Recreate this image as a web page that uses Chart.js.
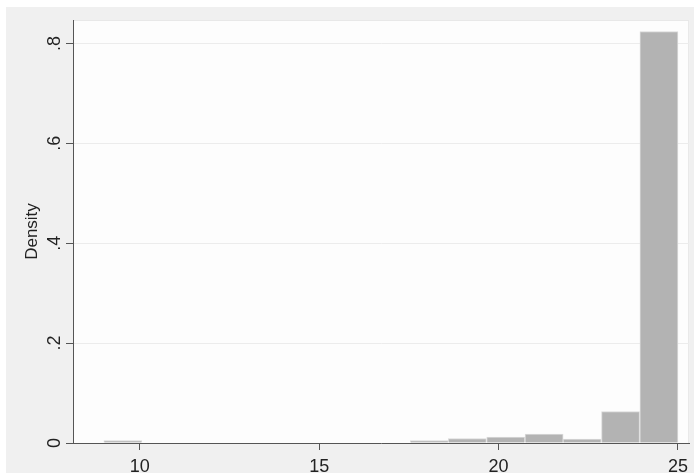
<!DOCTYPE html>
<html>
<head>
<meta charset="utf-8">
<script src="https://cdn.jsdelivr.net/npm/chart.js@4.4.1/dist/chart.umd.min.js"></script>
<style>
  html, body { margin: 0; padding: 0; background: #ffffff; }
  #myChart { display: block; }
</style>
</head>
<body>
<canvas id="myChart" width="694" height="473"></canvas>
<script>
// histogram bins (centres) and density heights
var binCenters = [9.53, 10.6, 11.67, 12.73, 13.8, 14.87, 15.93, 17.0, 18.07, 19.13, 20.2, 21.27, 22.33, 23.4, 24.47];
var density = [0.005, 0, 0, 0, 0, 0, 0, 0, 0.005, 0.009, 0.012, 0.018, 0.008, 0.063, 0.824];

var xTicks = [10, 15, 20, 25];
var yTicks = [0, 0.2, 0.4, 0.6, 0.8];
var yTickLabels = ['0', '.2', '.4', '.6', '.8'];

var points = binCenters.map(function (c, i) { return { x: c, y: density[i] } })

// stata-ish backgrounds: grey graph region, white plot region
var backgrounds = {
    id: 'backgrounds',
    beforeDraw: function (chart) {
        var ctx = chart.ctx;
        var a = chart.chartArea;
        ctx.save();
        ctx.fillStyle = '#ffffff';
        ctx.fillRect(0, 0, chart.width, chart.height);
        ctx.fillStyle = '#f0f0f0';
        ctx.fillRect(6, 7, chart.width - 6, chart.height - 7);
        ctx.fillStyle = '#fdfdfd';
        ctx.fillRect(a.left, a.top, a.right - a.left, a.bottom - a.top);
        ctx.strokeStyle = '#e8e8e8';
        ctx.lineWidth = 1;
        ctx.strokeRect(a.left + 0.5, a.top + 0.5, a.right - a.left - 1, a.bottom - a.top);
        ctx.restore();
    }
};

new Chart('myChart', {
    type: 'bar',
    data: {
        datasets: [{
            data: points,
            backgroundColor: '#b3b3b3',
            borderColor: '#dadada',
            borderWidth: 1,
            barPercentage: 1,
            categoryPercentage: 1
        }]
    },
    options: {
        responsive: false,
        animation: false,
        devicePixelRatio: 1,
        layout: { padding: { left: 6, top: 20, right: 2, bottom: 0 } },
        plugins: {
            legend: { display: false },
            tooltip: { enabled: false }
        },
        scales: {
            x: {
                type: 'linear',
                offset: false,
                min: 8.14,
                max: 25.31,
                afterBuildTicks: function (scale) {
                    scale.ticks = xTicks.map(function (v) { return { value: v } })
                },
                afterFit: function (scale) { scale.height = 30 },
                grid: {
                    offset: false,
                    drawOnChartArea: false,
                    tickLength: 7,
                    tickColor: '#555555'
                },
                border: { color: '#555555', width: 1 },
                ticks: {
                    color: '#222222',
                    padding: 6,
                    maxRotation: 0,
                    font: { family: 'Liberation Sans, Arial', size: 18 }
                }
            },
            y: {
                min: 0,
                max: 0.847,
                afterBuildTicks: function (scale) {
                    scale.ticks = yTicks.map(function (v) { return { value: v } })
                },
                afterFit: function (scale) { scale.width = 67 },
                grid: {
                    color: '#ececec',
                    tickLength: 7,
                    tickColor: '#555555'
                },
                border: { color: '#555555', width: 1 },
                ticks: {
                    color: '#222222',
                    minRotation: 90,
                    maxRotation: 90,
                    crossAlign: 'center',
                    padding: 3,
                    font: { family: 'Liberation Sans, Arial', size: 18 },
                    callback: function (value) {
                        var i = yTicks.indexOf(value);
                        return i >= 0 ? yTickLabels[i] : '';
                    }
                },
                title: {
                    display: true,
                    text: 'Density',
                    color: '#222222',
                    padding: { top: 16, bottom: 0 },
                    font: { family: 'Liberation Sans, Arial', size: 17 }
                }
            }
        }
    },
    plugins: [backgrounds]
});
</script>
</body>
</html>
